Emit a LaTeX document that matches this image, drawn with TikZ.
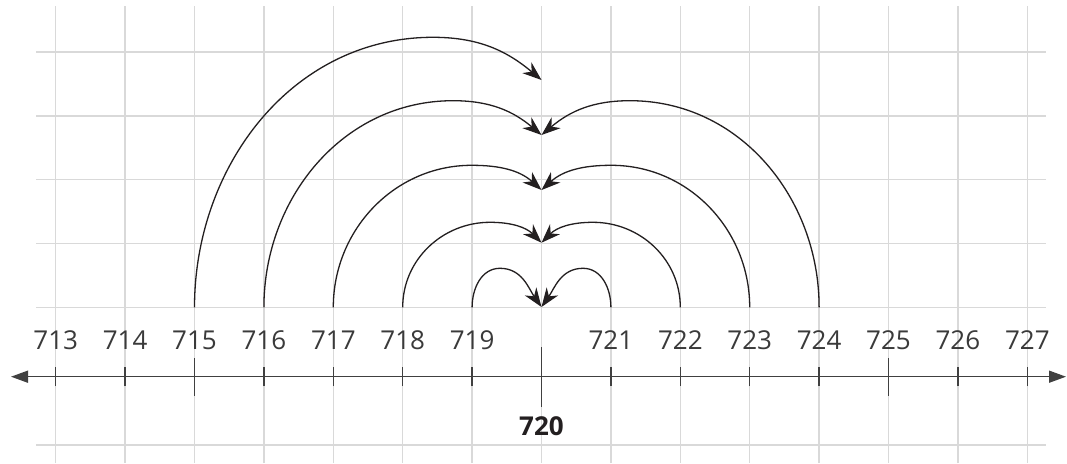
\documentclass[tikz,border=0pt]{standalone}
\usepackage{fontspec}
\setmainfont{Open Sans}
\usetikzlibrary{arrows.meta}
\definecolor{gridc}{HTML}{D9D9D9}
\definecolor{axisc}{HTML}{404040}
\definecolor{arcc}{HTML}{231F20}
\definecolor{txtc}{HTML}{3A3A3A}
\begin{document}
\begin{tikzpicture}[x=1pt,y=1pt,
  gridline/.style={draw=gridc,line width=1.3pt},
  axisline/.style={draw=axisc,line width=1.5pt,{Triangle[length=17pt,width=12pt]}-{Triangle[length=17pt,width=12pt]}},
  ticksmall/.style={draw=axisc,line width=1.3pt},
  hop/.style={draw=arcc,line width=1.3pt,-{Stealth[length=19pt,width=14pt,inset=6pt]}},
  numlab/.style={text=txtc,font=\fontsize{26}{26}\selectfont,inner sep=0pt},
  boldlab/.style={text=arcc,font=\fontsize{26}{26}\selectfont\bfseries,inner sep=0pt}
]
\useasboundingbox (0,0) rectangle (1067,463);
\fill[white] (0,0) rectangle (1067,463);
% grid
\foreach \i in {0,...,14}{
  \draw[gridline] ({55.7+69.4*\i},0) -- ({55.7+69.4*\i},457);
}
\foreach \y in {411,347,283.5,219.5,155.7,18}{
  \draw[gridline] (36,\y) -- (1046,\y);
}
% axis
\coordinate (axL) at (11,86.3);
\coordinate (axR) at (1066,86.3);
\draw[axisline] (axL) -- (axR);
% ticks and labels
\foreach \i in {0,...,14}{
  \pgfmathtruncatemacro{\n}{713+\i}
  \coordinate (k\n) at ({55.7+69.4*\i},86.3);
  \ifnum\n=720
    \draw[ticksmall] ([yshift=-30pt]k\n) -- ([yshift=30pt]k\n);
    \node[boldlab] (l\n) at ({55.7+69.4*\i},36.7) {\n};
  \else
    \ifnum\n=715
      \draw[ticksmall] ([yshift=-19pt]k\n) -- ([yshift=19pt]k\n);
    \else\ifnum\n=725
      \draw[ticksmall] ([yshift=-19pt]k\n) -- ([yshift=19pt]k\n);
    \else
      \draw[ticksmall] ([yshift=-9.3pt]k\n) -- ([yshift=9.3pt]k\n);
    \fi\fi
    \node[numlab] (l\n) at ({55.7+69.4*\i},123) {\n};
  \fi
}
% arc start points
\coordinate (s715) at (194.5,155.7);
\coordinate (s716) at (263.9,155.7);
\coordinate (s717) at (333.3,155.7);
\coordinate (s718) at (402.7,155.7);
\coordinate (s719) at (472.1,155.7);
\coordinate (s721) at (610.9,155.7);
\coordinate (s722) at (680.3,155.7);
\coordinate (s723) at (749.7,155.7);
\coordinate (s724) at (819.1,155.7);
% peaks
\coordinate (p715) at (433,425.7);
\coordinate (p716) at (453,362.3);
\coordinate (p717) at (471.7,297.7);
\coordinate (p718) at (490,240.7);
\coordinate (p719) at (500,194.7);
\coordinate (p721) at (583,194.7);
\coordinate (p722) at (593,240.7);
\coordinate (p723) at (611.3,297.7);
\coordinate (p724) at (630,362.3);
% tips
\coordinate (t1) at (541.5,383);
\coordinate (t2) at (541.5,328);
\coordinate (t3) at (541.5,273);
\coordinate (t4) at (541.5,220.3);
\coordinate (t5) at (541.5,156);
% left arcs
\draw[hop] (s715) to[out=90,in=180] (p715) to[out=0,in=140] (t1);
\draw[hop] (s716) to[out=90,in=180] (p716) to[out=0,in=140] (t2);
\draw[hop] (s717) to[out=90,in=180] (p717) to[out=0,in=138] (t3);
\draw[hop] (s718) to[out=90,in=180] (p718) to[out=0,in=135] (t4);
\draw[hop] (s719) to[out=90,in=180] (p719) to[out=0,in=125] (t5);
% right arcs
\draw[hop] (s724) to[out=90,in=0] (p724) to[out=180,in=40] (t2);
\draw[hop] (s723) to[out=90,in=0] (p723) to[out=180,in=42] (t3);
\draw[hop] (s722) to[out=90,in=0] (p722) to[out=180,in=45] (t4);
\draw[hop] (s721) to[out=90,in=0] (p721) to[out=180,in=55] (t5);
\end{tikzpicture}
\end{document}
